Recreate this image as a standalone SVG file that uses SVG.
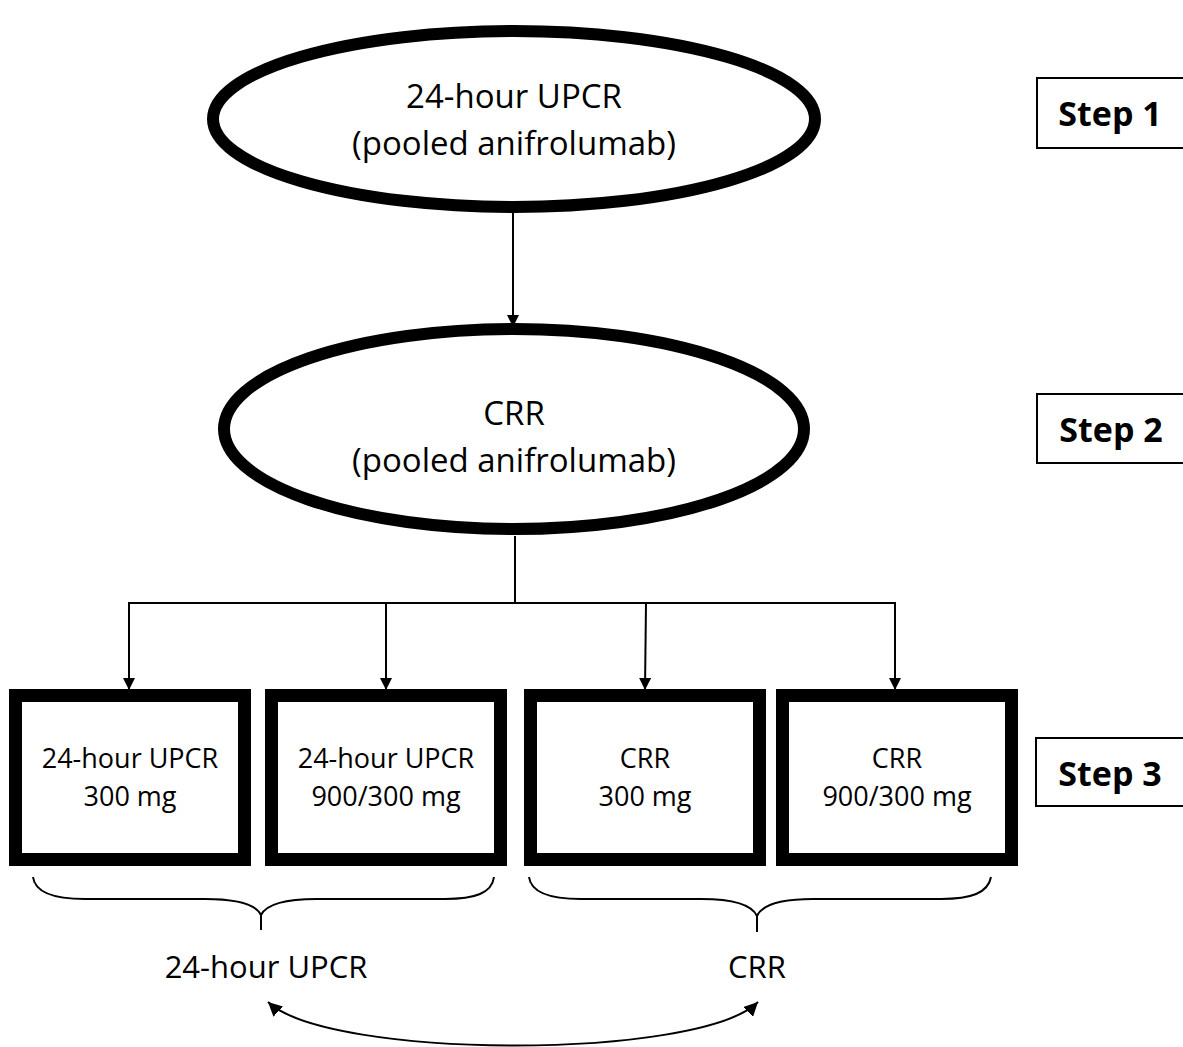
<svg xmlns="http://www.w3.org/2000/svg" width="1183" height="1047" viewBox="0 0 1183 1047">
<style>
.t{font-family:"Open Sans","Liberation Sans",sans-serif;fill:#000;text-anchor:middle}
.big{font-size:33px}
.lab{font-size:31px}
.mid{font-size:27px}
.step{font-family:"Open Sans","Liberation Sans",sans-serif;font-weight:bold;font-size:34px;text-anchor:middle}
.oval{fill:#fff;stroke:#000;stroke-width:12}
.box{fill:#fff;stroke:#000;stroke-width:13}
.sbox{fill:#fff;stroke:#000;stroke-width:2}
.ln{fill:none;stroke:#000;stroke-width:2}
.br{fill:none;stroke:#000;stroke-width:2}
</style>
<defs>
<marker id="ah" viewBox="0 0 10 10" refX="10" refY="5" markerWidth="6" markerHeight="6" markerUnits="strokeWidth" orient="auto-start-reverse">
<path d="M0,0 L10,5 L0,10 z" fill="#000"/>
</marker>
<marker id="ah2" viewBox="0 0 10 10" refX="10" refY="5" markerWidth="7" markerHeight="7" markerUnits="strokeWidth" orient="auto-start-reverse">
<path d="M0,0 L10,5 L0,10 z" fill="#000"/>
</marker>
</defs>
<rect width="1183" height="1047" fill="#fff"/>
<g id="connectors">
<line class="ln" x1="513" y1="213" x2="513" y2="327" marker-end="url(#ah)"/>
<polyline class="ln" points="515,536 515,603"/>
<polyline class="ln" points="129,690 129,603 895,603 895,690" marker-start="url(#ah)" marker-end="url(#ah)"/>
<line class="ln" x1="386" y1="603" x2="386" y2="690" marker-end="url(#ah)"/>
<line class="ln" x1="646" y1="603" x2="645" y2="690" marker-end="url(#ah)"/>
<path class="br" d="M33,877 C35,893 55,899 85,899 L205,899 C238,899 256,905 261,915 L261,930 M261,915 C266,905 284,899 317,899 L445,899 C475,899 492,893 494,877"/>
<path class="br" d="M529,877 C531,893 551,899 581,899 L701,899 C734,899 752,905 757,916 L757,932 M757,916 C762,905 780,899 813,899 L941,899 C971,899 988,893 991,877"/>
<path class="ln" d="M268,1002 C330,1060 700,1060 758,1002" marker-start="url(#ah2)" marker-end="url(#ah2)"/>
</g>
<g id="n1">
<ellipse class="oval" cx="514" cy="119" rx="301" ry="88"/>
<text class="t big" x="514" y="108">24-hour UPCR</text>
<text class="t big" x="514" y="155">(pooled anifrolumab)</text>
</g>
<g id="n2">
<ellipse class="oval" cx="514" cy="429" rx="290" ry="100"/>
<text class="t big" x="514" y="425">CRR</text>
<text class="t big" x="514" y="472">(pooled anifrolumab)</text>
</g>
<g id="b1">
<rect class="box" x="15.5" y="695.5" width="229" height="164"/>
<text class="t mid" x="130" y="768">24-hour UPCR</text>
<text class="t mid" x="130" y="806">300 mg</text>
</g>
<g id="b2">
<rect class="box" x="271.5" y="695.5" width="229" height="164"/>
<text class="t mid" x="386" y="768">24-hour UPCR</text>
<text class="t mid" x="386" y="806">900/300 mg</text>
</g>
<g id="b3">
<rect class="box" x="530.5" y="695.5" width="229" height="164"/>
<text class="t mid" x="645" y="768">CRR</text>
<text class="t mid" x="645" y="806">300 mg</text>
</g>
<g id="b4">
<rect class="box" x="782.5" y="695.5" width="229" height="164"/>
<text class="t mid" x="897" y="768">CRR</text>
<text class="t mid" x="897" y="806">900/300 mg</text>
</g>
<g id="s1">
<rect class="sbox" x="1037" y="78" width="160" height="70"/>
<text class="step" x="1110" y="126">Step 1</text>
</g>
<g id="s2">
<rect class="sbox" x="1037" y="394" width="160" height="69"/>
<text class="step" x="1111" y="442">Step 2</text>
</g>
<g id="s3">
<rect class="sbox" x="1036" y="738" width="160" height="68"/>
<text class="step" x="1110" y="786">Step 3</text>
</g>
<g id="labels">
<text class="t lab" x="266" y="978">24-hour UPCR</text>
<text class="t lab" x="757" y="978">CRR</text>
</g>
</svg>
